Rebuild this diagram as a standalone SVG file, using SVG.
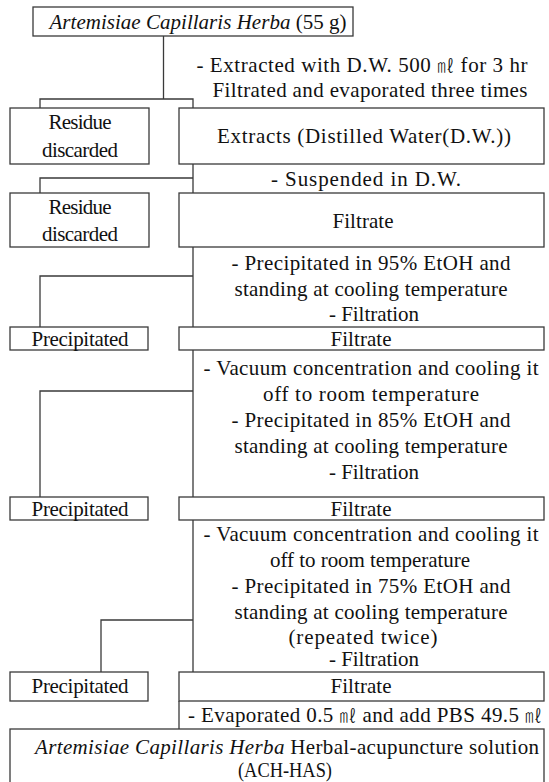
<svg xmlns="http://www.w3.org/2000/svg" width="549" height="782" viewBox="0 0 549 782">
<style>
.b{fill:#fff;stroke:#3a3a3a;stroke-width:1.3}
.c{fill:none;stroke:#3a3a3a;stroke-width:1.3}
text{font-family:"Liberation Serif","Noto Sans CJK KR",serif;font-size:21px;fill:#111;text-anchor:middle}
.i{font-style:italic}
.m{font-size:17px;font-weight:300}
</style>
<rect width="549" height="782" fill="#fff"/>
<g id="connectors">
<path class="c" d="M163.5 36V99M40 108V99H193V108"/>
<path class="c" d="M193 164V193M40 193V178H193"/>
<path class="c" d="M193 247V327M40 327V276H193"/>
<path class="c" d="M193 350V497M40 497V391H193"/>
<path class="c" d="M193 520V672M101 672V620H193"/>
<path class="c" d="M179 701V729"/>
</g>
<g id="n-top"><rect class="b" x="33" y="7" width="320" height="29"/><text x="198" y="29" textLength="297"><tspan class="i">Artemisiae Capillaris Herba</tspan> (55 g)</text></g>
<g id="s1"><text x="362" y="72" textLength="331">- Extracted with D.W. 500 <tspan class="m">㎖</tspan> for 3 hr</text><text x="370" y="97" textLength="315">Filtrated and evaporated three times</text></g>
<g id="n-res1"><rect class="b" x="10" y="108" width="139" height="56"/><text x="80" y="129" textLength="63">Residue</text><text x="80" y="157" textLength="76">discarded</text></g>
<g id="n-ext"><rect class="b" x="179" y="108" width="365" height="56"/><text x="364" y="143" textLength="294">Extracts (Distilled Water(D.W.))</text></g>
<g id="s2"><text x="366" y="186" textLength="190">- Suspended in D.W.</text></g>
<g id="n-res2"><rect class="b" x="10" y="193" width="139" height="54"/><text x="80" y="214" textLength="63">Residue</text><text x="80" y="241" textLength="76">discarded</text></g>
<g id="n-fil1"><rect class="b" x="179" y="193" width="365" height="54"/><text x="363" y="228" textLength="61">Filtrate</text></g>
<g id="s3"><text x="371" y="270" textLength="279">- Precipitated in 95% EtOH and</text><text x="371" y="296" textLength="273">standing at cooling temperature</text><text x="374" y="321" textLength="90">- Filtration</text></g>
<g id="n-pre1"><rect class="b" x="10" y="327" width="138" height="23"/><text x="80" y="345.5" textLength="97">Precipitated</text></g>
<g id="n-fil2"><rect class="b" x="179" y="327" width="365" height="23"/><text x="361" y="345.5" textLength="61">Filtrate</text></g>
<g id="s4"><text x="371" y="375" textLength="335">- Vacuum concentration and cooling it</text><text x="371" y="401" textLength="216">off  to room temperature</text><text x="371" y="427" textLength="279">- Precipitated in 85% EtOH and</text><text x="371" y="453" textLength="273">standing at cooling temperature</text><text x="374" y="479" textLength="90">- Filtration</text></g>
<g id="n-pre2"><rect class="b" x="10" y="497" width="138" height="23"/><text x="80" y="515.5" textLength="97">Precipitated</text></g>
<g id="n-fil3"><rect class="b" x="179" y="497" width="365" height="23"/><text x="361" y="515.5" textLength="61">Filtrate</text></g>
<g id="s5"><text x="371" y="541" textLength="335">- Vacuum concentration and cooling it</text><text x="370" y="567" textLength="200">off to room temperature</text><text x="371" y="593" textLength="279">- Precipitated in 75% EtOH and</text><text x="371" y="619" textLength="273">standing at cooling temperature</text><text x="363" y="644" textLength="149">(repeated twice)</text><text x="374" y="666" textLength="90">- Filtration</text></g>
<g id="n-pre3"><rect class="b" x="10" y="672" width="138" height="29"/><text x="80" y="693" textLength="97">Precipitated</text></g>
<g id="n-fil4"><rect class="b" x="179" y="672" width="365" height="29"/><text x="361" y="693" textLength="61">Filtrate</text></g>
<g id="s6"><text x="365" y="722" textLength="354">- Evaporated 0.5 <tspan class="m">㎖</tspan> and add PBS 49.5 <tspan class="m">㎖</tspan></text></g>
<g id="n-final"><rect class="b" x="10" y="729" width="534" height="70"/><text x="287" y="754" textLength="504"><tspan class="i">Artemisiae Capillaris Herba</tspan> Herbal-acupuncture solution</text><text x="285" y="777" textLength="94" lengthAdjust="spacingAndGlyphs">(ACH-HAS)</text></g>
</svg>
